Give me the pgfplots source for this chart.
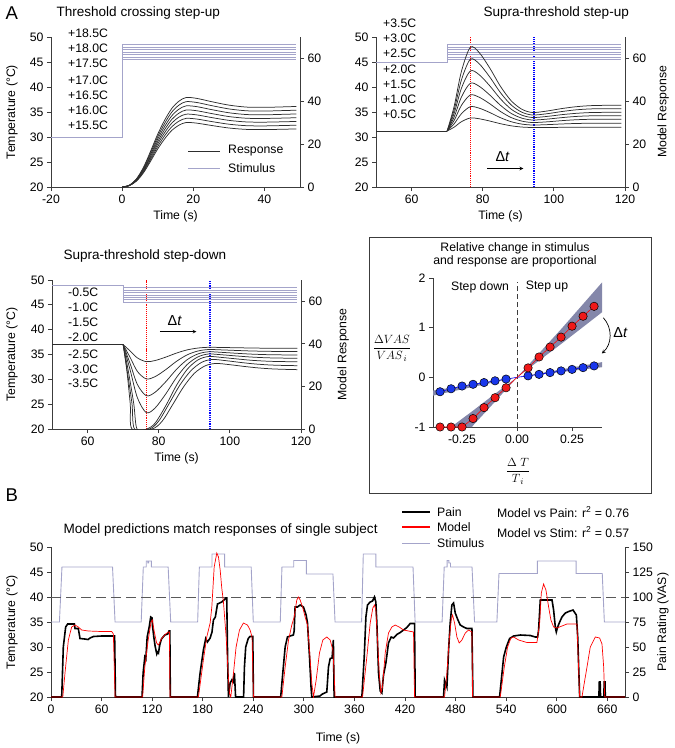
\documentclass[border=0pt]{standalone}
\usepackage{fontspec}
\setmainfont{Liberation Sans}
\usepackage{pgfplots}
\pgfplotsset{compat=1.18}
\newcommand{\fs}[1]{\fontsize{#1}{#1}\selectfont}
\definecolor{stim}{RGB}{164,164,202}
\definecolor{resp}{RGB}{45,45,45}
\definecolor{axc}{RGB}{60,60,60}
\definecolor{band}{RGB}{132,135,170}
\definecolor{mred}{RGB}{240,25,25}
\definecolor{mblue}{RGB}{25,55,235}
\pgfplotsset{
 sigbase/.style={scale only axis,
  axis line style={axc,line width=0.8pt},
  every tick/.style={axc,line width=0.8pt},
  major tick length=4bp, tick align=outside,
  ticklabel style={font=\fs{12.3}},
  label style={font=\fs{12.3}},
  /pgf/number format/assume math mode=true},
 sig/.style={sigbase, axis x line*=bottom, axis y line*=left},
 sigR/.style={sigbase, axis x line=none, axis y line*=right},
 rc/.style={resp, line width=0.75pt, smooth},
 st/.style={stim, line width=0.8pt},
}
\begin{document}
\begin{tikzpicture}
\useasboundingbox (0,0) rectangle (675bp,-748bp);
% ---------------- Panel 1
\begin{axis}[sig, at={(51bp,-187bp)}, anchor=south west, width=249bp, height=150bp,
 xmin=-20, xmax=50, ymin=20, ymax=50, xtick={-20,0,20,40}, ytick={20,25,30,35,40,45,50},
 xlabel={Time (s)}, ylabel={Temperature (°C)},
 xlabel style={at={(axis description cs:0.5,-0.193)},anchor=center},
 ylabel style={at={(axis description cs:-0.157,0.5)},anchor=center}]
\addplot[st] coordinates {(-20,30)(0,30)(0,48.5)(49,48.5)};
\addplot[st] coordinates {(0,48)(49,48)};
\addplot[st] coordinates {(0,47.5)(49,47.5)};
\addplot[st] coordinates {(0,47)(49,47)};
\addplot[st] coordinates {(0,46.5)(49,46.5)};
\addplot[st] coordinates {(0,46)(49,46)};
\addplot[st] coordinates {(0,45.5)(49,45.5)};
\addplot[rc] coordinates {(0,20)(2,20.26)(4,21.16)(6,22.84)(8,25.16)(10,27.61)(12,29.68)(14,31.35)(16,32.38)(18,32.9)(21,32.77)(25,32.32)(30,31.8)(35,31.52)(40,31.48)(45,31.55)(49,31.61)};
\addplot[rc] coordinates {(0,20)(2,20.27)(4,21.24)(6,23.02)(8,25.49)(10,28.10)(12,30.30)(14,32.08)(16,33.18)(18,33.73)(21,33.59)(25,33.11)(30,32.56)(35,32.26)(40,32.22)(45,32.29)(49,32.36)};
\addplot[rc] coordinates {(0,20)(2,20.29)(4,21.31)(6,23.21)(8,25.83)(10,28.60)(12,30.93)(14,32.82)(16,33.99)(18,34.57)(21,34.42)(25,33.91)(30,33.33)(35,33.01)(40,32.97)(45,33.04)(49,33.11)};
\addplot[rc] coordinates {(0,20)(2,20.31)(4,21.39)(6,23.39)(8,26.16)(10,29.09)(12,31.55)(14,33.55)(16,34.78)(18,35.4)(21,35.25)(25,34.71)(30,34.09)(35,33.75)(40,33.71)(45,33.78)(49,33.86)};
\addplot[rc] coordinates {(0,20)(2,20.32)(4,21.46)(6,23.57)(8,26.49)(10,29.58)(12,32.17)(14,34.28)(16,35.58)(18,36.23)(21,36.07)(25,35.50)(30,34.85)(35,34.49)(40,34.44)(45,34.53)(49,34.61)};
\addplot[rc] coordinates {(0,20)(2,20.34)(4,21.54)(6,23.76)(8,26.83)(10,30.07)(12,32.80)(14,35.02)(16,36.39)(18,37.07)(21,36.90)(25,36.30)(30,35.62)(35,35.24)(40,35.19)(45,35.28)(49,35.36)};
\addplot[rc] coordinates {(0,20)(2,20.36)(4,21.61)(6,23.94)(8,27.16)(10,30.56)(12,33.43)(14,35.75)(16,37.18)(18,37.9)(21,37.72)(25,37.09)(30,36.38)(35,35.98)(40,35.93)(45,36.02)(49,36.11)};
\end{axis}
\begin{axis}[sigR, at={(51bp,-187bp)}, anchor=south west, width=249bp, height=150bp,
 xmin=-20, xmax=50, ymin=0, ymax=70, ytick={0,20,40,60}]
\end{axis}
\node[anchor=west,font=\fs{18.6}] at (2bp,-13bp) {A};
\node[anchor=west,font=\fs{13.6}] at (53bp,-13bp) {Threshold crossing step-up};
\foreach \t/\y in {+18.5C/33,+18.0C/48,+17.5C/63,+17.0C/80,+16.5C/95,+16.0C/110,+15.5C/125}
  \node[anchor=west,font=\fs{12.3},inner sep=0pt] at (68bp,-\y bp) {\t};
\draw[resp,line width=0.9pt] (188bp,-151bp) -- (220bp,-151bp);
\draw[stim,line width=0.9pt] (188bp,-168bp) -- (220bp,-168bp);
\node[anchor=west,font=\fs{12.3},inner sep=0pt] at (228bp,-151bp) {Response};
\node[anchor=west,font=\fs{12.3},inner sep=0pt] at (228bp,-168bp) {Stimulus};
% ---------------- Panel 2
\begin{axis}[sig, at={(376bp,-187bp)}, anchor=south west, width=249bp, height=150bp,
 xmin=50, xmax=120, ymin=20, ymax=50, xtick={60,80,100,120}, ytick={20,25,30,35,40,45,50},
 xlabel={Time (s)},
 xlabel style={at={(axis description cs:0.5,-0.193)},anchor=center}]
\addplot[color=red, line width=1.1pt, densely dotted] coordinates {(76.5,20)(76.5,50)};
\addplot[color=blue, line width=1.2pt, densely dotted] coordinates {(94.4,20)(94.4,50)};
\addplot[st] coordinates {(50,45)(70,45)(70,48.5)(119,48.5)};
\addplot[st] coordinates {(70,48)(119,48)};
\addplot[st] coordinates {(70,47.5)(119,47.5)};
\addplot[st] coordinates {(70,47)(119,47)};
\addplot[st] coordinates {(70,46.5)(119,46.5)};
\addplot[st] coordinates {(70,46)(119,46)};
\addplot[st] coordinates {(70,45.5)(119,45.5)};
\addplot[resp, line width=0.75pt] coordinates {(50,31.2)(70,31.2)};
\addplot[rc] coordinates {(70,31.2)(72,36.22)(74,43.09)(76.5,47.94)(79,46.90)(82,43.77)(85,40.12)(88,37.25)(91,35.55)(94,34.9)(98,35.19)(102,35.66)(106,36.04)(110,36.26)(114,36.33)(119,36.33)};
\addplot[rc] coordinates {(70,31.2)(72,35.50)(74,41.38)(76.5,45.54)(79,44.65)(82,41.98)(85,38.86)(88,36.41)(91,34.96)(94,34.4)(98,34.65)(102,35.07)(106,35.42)(110,35.61)(114,35.67)(119,35.67)};
\addplot[rc] coordinates {(70,31.2)(72,34.8)(74,39.72)(76.5,43.2)(79,42.46)(82,40.22)(85,37.62)(88,35.57)(91,34.37)(94,33.9)(98,34.11)(102,34.45)(106,34.72)(110,34.88)(114,34.93)(119,34.93)};
\addplot[rc] coordinates {(70,31.2)(72,34.06)(74,37.97)(76.5,40.74)(79,40.15)(82,38.39)(85,36.34)(88,34.72)(91,33.77)(94,33.4)(98,33.57)(102,33.86)(106,34.10)(110,34.23)(114,34.27)(119,34.27)};
\addplot[rc] coordinates {(70,31.2)(72,33.36)(74,36.31)(76.5,38.4)(79,37.96)(82,36.64)(85,35.1)(88,33.89)(91,33.18)(94,32.9)(98,33.03)(102,33.26)(106,33.44)(110,33.54)(114,33.57)(119,33.57)};
\addplot[rc] coordinates {(70,31.2)(72,32.66)(74,34.65)(76.5,36.06)(79,35.77)(82,34.89)(85,33.86)(88,33.06)(91,32.58)(94,32.4)(98,32.47)(102,32.6)(106,32.7)(110,32.75)(114,32.77)(119,32.77)};
\addplot[rc] coordinates {(70,31.2)(72,31.98)(74,33.05)(76.5,33.8)(79,33.65)(82,33.19)(85,32.66)(88,32.24)(91,31.99)(94,31.9)(98,31.91)(102,31.93)(106,31.95)(110,31.96)(114,31.97)(119,31.97)};
\draw[->,>=stealth,line width=0.7pt] (axis cs:81.3,23.7) -- (axis cs:91.4,23.7);
\node[font=\fs{14.5}] at (axis cs:85.6,26) {Δ\textit{t}};
\end{axis}
\begin{axis}[sigR, at={(376bp,-187bp)}, anchor=south west, width=249bp, height=150bp,
 xmin=50, xmax=120, ymin=0, ymax=70, ytick={0,20,40,60}, ylabel={Model Response},
 ylabel style={at={(axis description cs:1.153,0.5)},anchor=center}]
\end{axis}
\node[anchor=west,font=\fs{13.6}] at (480bp,-13bp) {Supra-threshold step-up};
\foreach \t/\y in {+3.5C/23,+3.0C/38,+2.5C/53,+2.0C/69,+1.5C/84,+1.0C/99,+0.5C/114}
  \node[anchor=west,font=\fs{12.3},inner sep=0pt] at (383bp,-\y bp) {\t};
% ---------------- Panel 3
\begin{axis}[sig, at={(52bp,-429bp)}, anchor=south west, width=249bp, height=149bp,
 xmin=50, xmax=120, ymin=20, ymax=50, xtick={60,80,100,120}, ytick={20,25,30,35,40,45,50},
 xlabel={Time (s)}, ylabel={Temperature (°C)},
 xlabel style={at={(axis description cs:0.5,-0.195)},anchor=center},
 ylabel style={at={(axis description cs:-0.161,0.5)},anchor=center}]
\addplot[color=red, line width=1.1pt, densely dotted] coordinates {(76.5,20)(76.5,50)};
\addplot[color=blue, line width=1.2pt, densely dotted] coordinates {(94.4,20)(94.4,50)};
\addplot[st] coordinates {(50,49)(70,49)(70,45.5)(119,45.5)};
\addplot[st] coordinates {(70,48.5)(119,48.5)};
\addplot[st] coordinates {(70,48)(119,48)};
\addplot[st] coordinates {(70,47.5)(119,47.5)};
\addplot[st] coordinates {(70,47)(119,47)};
\addplot[st] coordinates {(70,46.5)(119,46.5)};
\addplot[st] coordinates {(70,46)(119,46)};
\addplot[resp, line width=0.75pt] coordinates {(50,37)(70,37)};
\addplot[rc] coordinates {(70,37)(72,35.69)(74,34.32)(76.5,33.56)(79,33.79)(82,34.48)(85,35.29)(88,35.93)(91,36.3)(94,36.45)(98,36.41)(102,36.36)(106,36.31)(110,36.27)(114,36.26)(119,36.25)};
\addplot[rc] coordinates {(70,37)(72,34.37)(74,31.6)(76.5,30.08)(79,30.55)(82,31.97)(85,33.63)(88,34.93)(91,35.7)(94,36.0)(98,35.92)(102,35.81)(106,35.71)(110,35.65)(114,35.61)(119,35.6)};
\addplot[rc] coordinates {(70,37)(72,33.09)(74,28.97)(76.5,26.7)(79,27.41)(82,29.53)(85,32.01)(88,33.96)(91,35.11)(94,35.55)(98,35.42)(102,35.24)(106,35.08)(110,34.98)(114,34.93)(119,34.9)};
\addplot[rc] coordinates {(70,37)(72,31.79)(74,26.31)(76.5,23.3)(79,24.24)(82,27.08)(85,30.38)(88,32.98)(91,34.51)(94,35.1)(98,34.93)(102,34.7)(106,34.49)(110,34.35)(114,34.28)(119,34.25)};
\addplot[rc] coordinates {(70,37)(71.5,31.5)(73,25)(73.9,20)(76.7,20)(79,21.2)(82,24.7)(85,28.8)(88,32.0)(91,33.9)(94,34.6)(98,34.39)(102,34.11)(106,33.84)(110,33.67)(114,33.58)(119,33.55)};
\addplot[rc] coordinates {(70,37)(71.5,30)(72.5,25)(73.2,20)(77.4,20)(80,21.6)(83,25.2)(86,28.9)(89,31.7)(92,33.4)(95,34.0)(99,33.75)(103,33.4)(107,33.1)(111,32.9)(115,32.8)(119,32.75)};
\addplot[rc] coordinates {(70,37)(71,32)(72,25)(72.5,20)(78.1,20)(81,21.6)(84,25)(87,28.5)(90,31.2)(93,32.7)(96,33.2)(100,32.95)(104,32.6)(108,32.3)(112,32.1)(116,32.0)(119,31.95)};
\draw[->,>=stealth,line width=0.7pt] (axis cs:80.3,39.6) -- (axis cs:90.6,39.6);
\node[font=\fs{14.5}] at (axis cs:84.5,41.9) {Δ\textit{t}};
\end{axis}
\begin{axis}[sigR, at={(52bp,-429bp)}, anchor=south west, width=249bp, height=149bp,
 xmin=50, xmax=120, ymin=0, ymax=70, ytick={0,20,40,60}, ylabel={Model Response},
 ylabel style={at={(axis description cs:1.169,0.5)},anchor=center}]
\end{axis}
\node[anchor=west,font=\fs{13.6}] at (60bp,-256bp) {Supra-threshold step-down};
\foreach \t/\y in {-0.5C/292,-1.0C/307,-1.5C/322,-2.0C/337,-2.5C/354,-3.0C/369,-3.5C/383}
  \node[anchor=west,font=\fs{12.3},inner sep=0pt] at (68bp,-\y bp) {\t};
% ---------------- Panel 4
\draw[axc,line width=0.8pt] (369bp,-237bp) rectangle (651bp,-493bp);
\node[align=center,font=\fs{12.3},inner sep=0pt] at (515bp,-254.5bp) {Relative change in stimulus\\[1pt]and response are proportional};
\begin{axis}[sig, at={(433bp,-427bp)}, anchor=south west, width=169bp, height=149bp,
 xmin=-0.382, xmax=0.386, ymin=-1, ymax=2, xtick={-0.25,0,0.25}, ytick={-1,0,1,2},
 xticklabel style={/pgf/number format/.cd, fixed, fixed zerofill, precision=2},
 clip=false,
 xlabel={$\displaystyle\frac{\Delta\ T}{T_{\,i}}$}, ylabel={$\displaystyle\frac{\Delta VAS}{VAS_{\,i}}$},
 xlabel style={at={(axis description cs:0.503,-0.295)},anchor=center},
 ylabel style={at={(axis description cs:-0.243,0.53)},anchor=center,rotate=-90}]
\addplot[fill=band, draw=none] coordinates {(-0.3,-1)(-0.2,-0.67)(-0.1,-0.33)(0,0)(0.05,0.24)(0.2,0.97)(0.386,1.91)(0.386,1.31)(0.2,0.67)(0.05,0.17)(0,0)(-0.1,-0.49)(-0.2,-0.97)(-0.205,-1)} -- cycle;
\addplot[fill=band, draw=none] coordinates {(-0.382,-0.266)(0,0)(0.386,0.306)(0.386,0.204)(0,0)(-0.382,-0.368)} -- cycle;
\addplot[axc, line width=0.7pt, dash pattern=on 5bp off 3bp] coordinates {(0,-1)(0,1.92)};
\addplot[color=blue, line width=0.6pt] coordinates {(-0.35,-0.29)(-0.3,-0.23)(-0.25,-0.175)(-0.2,-0.14)(-0.15,-0.105)(-0.1,-0.07)(-0.05,-0.035)(0,0)(0.05,0.03)(0.1,0.06)(0.15,0.095)(0.2,0.13)(0.25,0.16)(0.3,0.195)(0.35,0.23)};
\addplot[color=red, line width=0.6pt] coordinates {(-0.35,-1)(-0.3,-1)(-0.25,-1)(-0.2,-0.83)(-0.15,-0.61)(-0.1,-0.41)(-0.05,-0.21)(0,0)(0.05,0.19)(0.1,0.41)(0.15,0.61)(0.2,0.81)(0.25,1.03)(0.3,1.23)(0.35,1.43)};
\addplot[only marks, mark=*, mark size=4.2bp, mark options={fill=mblue, draw=black, line width=0.5pt}] coordinates {(-0.35,-0.29)(-0.3,-0.23)(-0.25,-0.175)(-0.2,-0.14)(-0.15,-0.105)(-0.1,-0.07)(-0.05,-0.035)(0.05,0.03)(0.1,0.06)(0.15,0.095)(0.2,0.13)(0.25,0.16)(0.3,0.195)(0.35,0.23)};
\addplot[only marks, mark=*, mark size=4.2bp, mark options={fill=mred, draw=black, line width=0.5pt}] coordinates {(-0.35,-1)(-0.3,-1)(-0.25,-1)(-0.2,-0.83)(-0.15,-0.61)(-0.1,-0.41)(-0.05,-0.21)(0.05,0.19)(0.1,0.41)(0.15,0.61)(0.2,0.81)(0.25,1.03)(0.3,1.23)(0.35,1.43)};
\node[font=\fs{12.3}] at (axis cs:-0.168,1.82) {Step down};
\node[font=\fs{12.3}] at (axis cs:0.136,1.82) {Step up};
\draw[->,>=stealth,line width=0.7pt] (axis cs:0.392,1.2) to[bend left=45] (axis cs:0.385,0.48);
\node[font=\fs{14.5}] at (axis cs:0.47,0.9) {Δ\textit{t}};
\end{axis}
% ---------------- Panel B
\node[anchor=west,font=\fs{18.6}] at (2bp,-495bp) {B};
\node[anchor=west,font=\fs{13.6}] at (60bp,-530bp) {Model predictions match responses of single subject};
\begin{axis}[sig, at={(51bp,-697bp)}, anchor=south west, width=574bp, height=150bp,
 xmin=0, xmax=681, ymin=20, ymax=50, xtick={0,60,...,660}, ytick={20,25,30,35,40,45,50},
 xlabel={Time (s)}, ylabel={Temperature (°C)},
 xlabel style={at={(axis description cs:0.5,-0.273)},anchor=center},
 ylabel style={at={(axis description cs:-0.068,0.5)},anchor=center}]
\addplot[stim, line width=0.9pt] coordinates {(0,35)(10,35)(13,46)(73,46)(76,35)(107,35)(109.5,46)(113,46)(113,47.2)(115,47.2)(115,46.8)(116,46.8)(116,47.2)(119,47.2)(119,46)(139,46)(142,35)(174,35)(176,46)(191,46)(191,48.6)(206,48.6)(206,46)(237.5,46)(240,35)(272,35)(274,46)(288,46)(288,47.3)(303,47.3)(303,44.6)(334.5,44.6)(337,35)(368.5,35)(370.5,48.6)(385.5,48.6)(385.5,46)(429.5,46)(432,35)(464,35)(466.5,46)(470,46)(470,47.3)(472,47.3)(472,46.8)(474,46.8)(474,46)(499.5,46)(502.5,35)(529,35)(531.5,44.7)(577,44.7)(577,47.2)(623,47.2)(623,44.7)(654,44.7)(656.5,35)(681,35)};
\addplot[axc!85!white, line width=0.8pt, dash pattern=on 10bp off 5bp] coordinates {(0,40)(681,40)};
\end{axis}
\begin{axis}[sigR, at={(51bp,-697bp)}, anchor=south west, width=574bp, height=150bp,
 xmin=0, xmax=681, ymin=0, ymax=150, ytick={0,25,50,75,100,125,150}, ylabel={Pain Rating (VAS)},
 ylabel style={at={(axis description cs:1.066,0.5)},anchor=center}]
\addplot[black, line width=1.6pt] coordinates {(0,0)(12.7,0)(14.6,50)(17.4,70)(19.8,73)(27.7,73)(28.5,68.5)(32.4,68.5)(34.4,58.5)(40,58)(44,57.5)(46.3,59)(50.3,60.5)(60,61)(75.5,61)(76.5,0)
(108,0)(109.3,24)(111.3,40)(112.5,38)(114.1,60)(116.5,70)(118.3,80)(120,79)(120.3,72)(122,60)(123.5,51)(125.5,43)(126.5,45)(127.5,44)(129,52)(131,58)(135,62)(138.5,63)(140,66)(141,66)(141.6,0)
(173.7,0)(176.9,24)(180.8,47)(183.6,58.5)(185.6,55)(188.8,59)(191,65)(192.7,77)(195,80)(197.5,93)(202.6,95)(205.8,97.5)(207.4,99)(208.5,99)(209.5,40)(210.5,0)(212.5,14)(214.5,17)(216,15)(217.6,24)(219,0)(228.5,0)(229.5,30)(231,50)(234,58.5)(236,60.5)(239.4,60.5)(240.2,0)
(272.5,0)(275,24)(277.8,50)(280.5,60)(283.7,61)(287.5,62)(288.5,66)(289.6,90)(292.4,90)(295.6,92)(299.5,90)(302.7,82)(304.3,74)(306.7,40)(308.5,10)(309.4,0)(319,1)(322,3)(327.2,5)(329.2,30)(331.2,38.5)(333.5,39)(335,57)(335.9,0)
(368.8,0)(371.6,40)(373.6,80)(375.5,92)(378.7,95)(381.4,96)(383.8,100)(385.4,95)(386.6,74)(388.6,24)(390.6,6)(392.5,4)(394.5,22)(397.3,34)(400.4,54)(403.6,60)(406.4,59)(410.3,62.5)(414.3,64.5)(418.2,67)(422.2,69.5)(426.1,73.5)(431.3,73.5)(432.1,0)
(465.7,0)(466.9,17)(469.7,10)(471.7,47)(473.6,74)(475.6,92)(477.6,94)(479.6,84)(482.8,77)(485.5,72)(489.5,70)(493.4,68.5)(499.4,68.5)(500.6,0)
(532.2,0)(537,40)(540.2,50)(544.1,58.5)(548.9,61)(556.8,62)(568.6,61.5)(574.6,60)(577.3,60)(578.5,67)(580.5,97)(594.4,97)(596.3,87)(598.3,70)(599.5,65)(601.1,70)(603.5,75)(606.2,80)(610.2,84)(614.2,85.5)(619.3,87)(623.3,82)(624.9,60)(627.2,0)(650,0)(650.5,15)(651.5,15)(652,0)(655.9,0)(656.3,15)(657.3,15)(657.6,0)(681,0)};
\addplot[color=red, line width=0.7pt] coordinates {(0,0)(14,0)(16.6,24)(20.6,57)(24.5,70)(28.5,72)(32.4,70)(36.4,67)(44.3,66)(60,65.5)(72,65.5)(74,63)(76,0)
(108.7,0)(111.3,30)(115.3,57)(118.7,75)(120.3,77)(122.6,65)(125.3,54)(127.4,52)(131.3,58.5)(135.3,62.5)(139.3,65)(140.5,65)(141.2,0)
(174.9,0)(180.8,37)(184.8,60)(188.8,74)(190.8,90)(193.6,130)(196.7,144)(198.7,140)(200.7,127)(202.6,109)(204.6,95)(207.8,60)(209.7,30)(211.7,4)(213.3,0)(216.5,24)(219.6,50)(223.6,67)(228.3,74)(233.1,72)(236.2,67)(238.5,60)(240.2,0)
(273.9,0)(277.8,30)(281.8,57)(285.7,72)(288.5,80)(291.6,97)(293.6,100)(295.6,97)(298.8,89)(301.5,80)(304.3,72)(306.7,47)(309.4,14)(311.4,0)(314.6,17)(318.5,44)(322.5,57)(327.2,60)(331.2,57)(334.4,47)(335.5,30)(337.1,0)
(369.6,0)(374.7,40)(378.7,74)(381.8,89)(383.8,92)(385.4,87)(387.4,57)(389.4,24)(391.4,4)(393.3,10)(396.5,44)(400.4,64)(404.4,70)(408.4,72)(413.1,70)(418.2,67)(424.2,66)(430.1,65)(431.3,0)
(466.9,0)(469.7,24)(472.4,57)(474.8,77)(476.4,82)(478.8,74)(481.6,60)(484.3,54)(487.5,57)(491.5,64)(495.4,67)(499.4,65)(500.2,0)
(533,0)(537.8,30)(541.7,50)(545.7,59)(548.9,60)(554.8,57)(564.7,54.5)(576.5,54.5)(579.7,74)(581.7,104)(584.4,113)(587.2,107)(590.4,90)(593.1,77)(596.3,70)(600.3,69)(606.2,71)(612.1,73)(624,73)(627.2,0)(629.9,0)(635.9,30)(639.8,50)(645.8,60)(650.9,59)(653.7,53)(655.7,30)(656.9,0)(681,0)};
\end{axis}
\draw[black,line width=1.6pt] (402bp,-512bp) -- (430bp,-512bp);
\draw[color=red,line width=1.2pt] (402bp,-527bp) -- (430bp,-527bp);
\draw[stim,line width=0.9pt] (402bp,-543bp) -- (430bp,-543bp);
\node[anchor=west,font=\fs{12.3},inner sep=0pt] at (437bp,-512bp) {Pain};
\node[anchor=west,font=\fs{12.3},inner sep=0pt] at (437bp,-527bp) {Model};
\node[anchor=west,font=\fs{12.3},inner sep=0pt] at (437bp,-543bp) {Stimulus};
\node[anchor=west,font=\fs{12.3},inner sep=0pt] at (497bp,-512bp) {Model vs Pain: r\textsuperscript{2} = 0.76};
\node[anchor=west,font=\fs{12.3},inner sep=0pt] at (497bp,-532bp) {Model vs Stim: r\textsuperscript{2} = 0.57};
\end{tikzpicture}
\end{document}
